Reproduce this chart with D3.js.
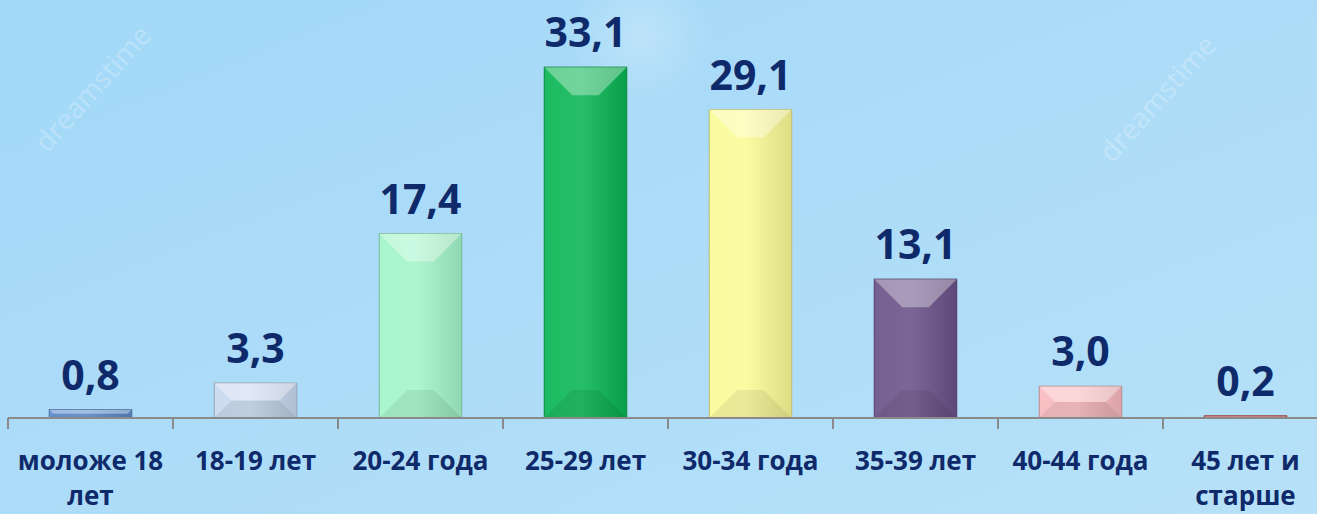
<!DOCTYPE html>
<html lang="ru">
<head>
<meta charset="UTF-8">
<script src="https://d3js.org/d3.v7.min.js"></script>
<title>Возраст</title>
<style>
html, body { margin: 0; padding: 0; }
body { width: 1317px; height: 514px; overflow: hidden; }
svg { display: block; }
text { font-family: 'Open Sans', sans-serif; font-weight: bold; }
</style>
</head>
<body>
<svg id="chart"></svg>
<script>
// данные
let categories = ['моложе 18 лет', '18-19 лет', '20-24 года', '25-29 лет', '30-34 года', '35-39 лет', '40-44 года', '45 лет и старше']
let values = [0.8, 3.3, 17.4, 33.1, 29.1, 13.1, 3.0, 0.2]
let barColors = ['#5f8fd2', '#c9d8ee', '#a2f5c9', '#08b552', '#fafa98', '#6a5189', '#f8b9bd', '#c0392b']

let width = 1317
let height = 514
let baseY = 418
let navy = '#0f2a6a'

let svg = d3.select('#chart').attr('width', width).attr('height', height)
let defs = svg.append('defs')

// фон
let bg = defs.append('linearGradient').attr('id', 'bg')
    .attr('x1', 0).attr('y1', 0).attr('x2', 1).attr('y2', 1)
bg.append('stop').attr('offset', 0).attr('stop-color', '#a2d8f8')
bg.append('stop').attr('offset', 0.5).attr('stop-color', '#addcf8')
bg.append('stop').attr('offset', 1).attr('stop-color', '#b6e1f8')
svg.append('rect').attr('width', width).attr('height', height).attr('fill', 'url(#bg)')

let spiral = defs.append('radialGradient').attr('id', 'spiral')
spiral.append('stop').attr('offset', 0).attr('stop-color', '#ffffff').attr('stop-opacity', 0.25)
spiral.append('stop').attr('offset', 1).attr('stop-color', '#ffffff').attr('stop-opacity', 0)
svg.append('circle').attr('cx', 640).attr('cy', 35).attr('r', 70).attr('fill', 'url(#spiral)')

let marks = [[100, 95], [1165, 105]]
svg.selectAll('.wm')
    .data(marks)
    .enter()
    .append('text')
    .attr('class', 'wm')
    .attr('transform', d => 'translate(' + d[0] + ',' + d[1] + ') rotate(-48)')
    .attr('text-anchor', 'middle')
    .attr('fill', '#ffffff')
    .attr('fill-opacity', 0.25)
    .style('font-weight', 'normal')
    .style('font-size', '28px')
    .text('dreamstime')

// шкалы
let xScale = d3.scaleBand()
    .domain(categories)
    .range([8, 8 + 165 * categories.length])
    .paddingInner(0.5)
    .paddingOuter(0.25)

let yScale = d3.scaleLinear()
    .domain([0, 35])
    .range([baseY, baseY - 35 * 10.6])

let bw = xScale.bandwidth()
let gap = xScale.step() - bw

// градиенты для столбиков
barColors.forEach((c, i) => {
    let g = defs.append('linearGradient').attr('id', 'bar' + i)
    let col = d3.color(c)
    g.append('stop').attr('offset', 0).attr('stop-color', d3.interpolateRgb(c, '#ffffff')(0.08))
    g.append('stop').attr('offset', 0.45).attr('stop-color', d3.interpolateRgb(c, '#ffffff')(0.12))
    g.append('stop').attr('offset', 1).attr('stop-color', col.darker(0.35))
})

let bars = svg.selectAll('.bar')
    .data(values)
    .enter()
    .append('g')
    .attr('class', 'bar')

bars.append('rect')
    .attr('x', (d, i) => xScale(categories[i]))
    .attr('y', d => yScale(d))
    .attr('width', bw)
    .attr('height', d => baseY - yScale(d))
    .attr('fill', (d, i) => 'url(#bar' + i + ')')
    .attr('stroke', (d, i) => d3.color(barColors[i]).darker(0.8))
    .attr('stroke-width', 1)

// фаска сверху и снизу
let bevel = (d, i, top) => {
    let x0 = xScale(categories[i])
    let x1 = x0 + bw
    let y0 = yScale(d)
    let h = baseY - y0
    let b = Math.min(28, h / 2)
    if (top) {
        return [[x0, y0], [x1, y0], [x1 - b, y0 + b], [x0 + b, y0 + b]].join(' ')
    }
    return [[x0, baseY], [x1, baseY], [x1 - b, baseY - b], [x0 + b, baseY - b]].join(' ')
}

bars.append('polygon')
    .attr('points', (d, i) => bevel(d, i, true))
    .attr('fill', '#ffffff')
    .attr('fill-opacity', 0.35)

bars.append('polygon')
    .attr('points', (d, i) => bevel(d, i, false))
    .attr('fill', '#000000')
    .attr('fill-opacity', 0.07)

// ось
svg.append('line')
    .attr('x1', 8).attr('x2', width)
    .attr('y1', baseY).attr('y2', baseY)
    .attr('stroke', '#8a8a8a').attr('stroke-width', 2)

svg.selectAll('.tick')
    .data(categories)
    .enter()
    .append('line')
    .attr('class', 'tick')
    .attr('x1', d => xScale(d) - gap / 2)
    .attr('x2', d => xScale(d) - gap / 2)
    .attr('y1', baseY)
    .attr('y2', baseY + 11)
    .attr('stroke', '#8a8a8a').attr('stroke-width', 2)

// подписи значений
let fmt = v => v.toFixed(1).replace('.', ',')
svg.selectAll('.val')
    .data(values)
    .enter()
    .append('text')
    .attr('class', 'val')
    .attr('x', (d, i) => xScale(categories[i]) + bw / 2)
    .attr('y', d => yScale(d) - 20)
    .attr('text-anchor', 'middle')
    .attr('fill', navy)
    .style('font-size', '41px')
    .text(d => fmt(d))

// подписи категорий с переносом
let cats = svg.selectAll('.cat')
    .data(categories)
    .enter()
    .append('text')
    .attr('class', 'cat')
    .attr('x', d => xScale(d) + bw / 2)
    .attr('y', 470)
    .attr('text-anchor', 'middle')
    .attr('fill', navy)
    .style('font-size', '26px')

cats.each(function (d) {
    let el = d3.select(this)
    let words = d.split(' ')
    let line = []
    let lines = []
    let tmp = el.append('tspan')
    words.forEach(w => {
        tmp.text(line.concat([w]).join(' '))
        if (tmp.node().getComputedTextLength() > 160 && line.length) {
            lines.push(line.join(' '))
            line = [w]
        } else {
            line.push(w)
        }
    })
    lines.push(line.join(' '))
    tmp.remove()
    lines.forEach((l, k) => {
        el.append('tspan')
            .attr('x', xScale(d) + bw / 2)
            .attr('dy', k ? 35 : 0)
            .text(l)
    })
})
</script>
</body>
</html>
